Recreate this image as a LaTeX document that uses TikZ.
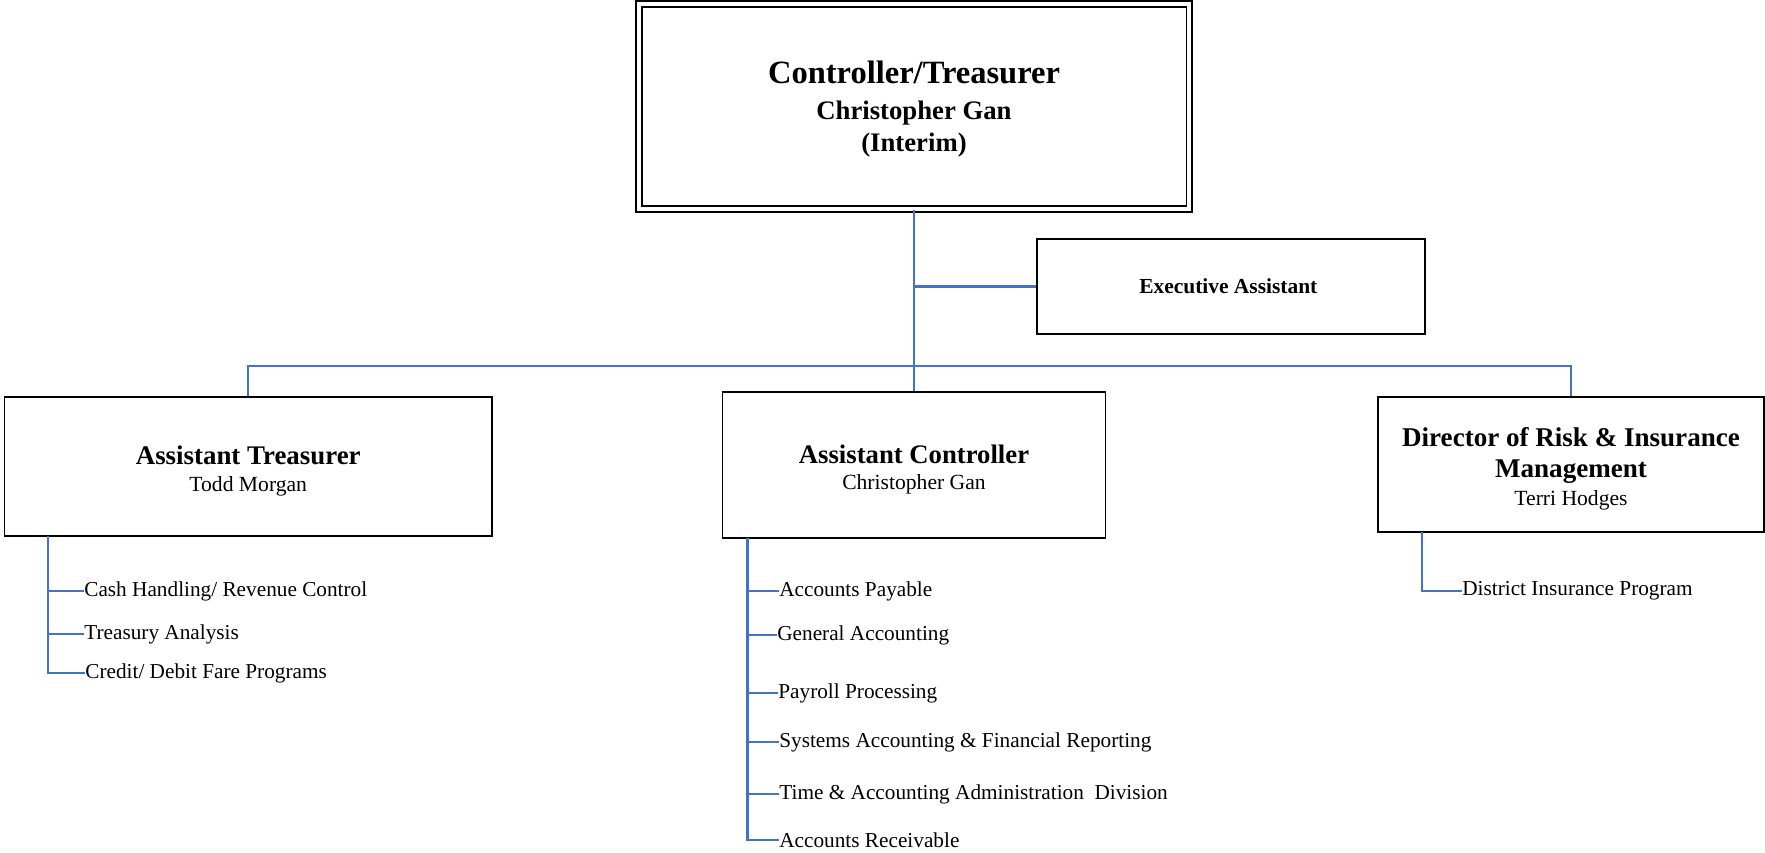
\documentclass[tikz,border=0pt]{standalone}
\usepackage{fontspec}
\setmainfont{Liberation Serif}
\usepackage{tikz}
\definecolor{linkblue}{RGB}{68,114,196}

\tikzset{
  box/.style={draw, rectangle, line width=1.1pt, align=center, inner sep=2pt},
  link/.style={draw=linkblue, line width=1.2pt},
  item/.style={anchor=west, inner sep=0pt, font=\fontsize{12.1}{14}\selectfont},
}
% pushes a box's text a little below the middle
\newcommand{\toplift}[1]{\rule{0pt}{#1}}

\begin{document}
\begin{tikzpicture}
\useasboundingbox (0,0) rectangle (35.3,-17.06);

% Controller / Treasurer
\node[box, double, line width=0.8pt, double distance=2.4pt, minimum width=11.0cm, minimum height=4.1cm,
      font=\fontsize{15.2}{18.5}\selectfont\bfseries] (top) at (18.28,-2.13) {
    \toplift{16pt}{\fontsize{18.5}{18.5}\selectfont Controller/Treasurer}\\[2pt]
    Christopher Gan\\
    (Interim)
};

% Executive Assistant
\node[box, minimum width=7.76cm, minimum height=1.9cm] (exec) at (24.62,-5.73) {
    \fontsize{12.2}{14}\selectfont\bfseries Executive Assistant
};

% Three direct reports
\node[box, minimum width=9.75cm, minimum height=2.78cm, font=\fontsize{12.3}{15.5}\selectfont] (treas) at (4.965,-9.33) {
    \toplift{15.5pt}{\fontsize{15.3}{15.5}\selectfont\bfseries Assistant Treasurer}\\
    Todd Morgan
};
\node[box, minimum width=7.66cm, minimum height=2.92cm, font=\fontsize{12.3}{15}\selectfont] (ctrl) at (18.28,-9.3) {
    \toplift{15.5pt}{\fontsize{15.2}{15}\selectfont\bfseries Assistant Controller}\\
    Christopher Gan
};
\node[box, minimum width=7.72cm, minimum height=2.7cm, font=\fontsize{12.3}{17.2}\selectfont] (risk) at (31.42,-9.29) {
    \toplift{15.5pt}{\fontsize{15.4}{17.2}\selectfont\bfseries Director of Risk \& Insurance}\\[1pt]
    {\fontsize{15.4}{17.2}\selectfont\bfseries Management}\\[-1.5pt]
    Terri Hodges
};

% Connectors from the top box
\coordinate (bus) at (18.28,-7.32);
\draw[link] (top.south) -- (ctrl.north);
\draw[link] (exec.west -| top.south) -- (exec.west);
\draw[link] (treas.north) |- (bus) -| (risk.north);

% Treasury units
\node[item] (cash) at (1.68,-11.82) {Cash Handling/ Revenue Control};
\node[item] (tanal) at (1.68,-12.68) {Treasury Analysis};
\node[item] (credit) at (1.70,-13.46) {Credit/ Debit Fare Programs};
\coordinate (tspine) at (0.96,-10.72);
\draw[link] (tspine) |- (credit.west);
\foreach \n in {cash, tanal}
  \draw[link] (tspine |- \n.west) -- (\n.west);

% Accounting units
\node[item] (ap) at (15.58,-11.82) {Accounts Payable};
\node[item] (gen) at (15.54,-12.7) {General Accounting};
\node[item] (pay) at (15.56,-13.86) {Payroll Processing};
\node[item] (sys) at (15.58,-14.84) {Systems Accounting \& Financial Reporting};
\node[item] (time) at (15.58,-15.88) {Time \& Accounting Administration\ \ Division};
\node[item] (ar) at (15.58,-16.8) {Accounts Receivable};
\coordinate (cspine) at (14.95,-10.76);
\draw[link] (cspine) |- (ar.west);
\foreach \n in {ap, gen, pay, sys, time}
  \draw[link] (cspine |- \n.west) -- (\n.west);

% Risk units
\node[item] (dip) at (29.24,-11.82) {District Insurance Program};
\coordinate (rspine) at (28.44,-10.64);
\draw[link] (rspine) |- (dip.west);
\end{tikzpicture}
\end{document}
